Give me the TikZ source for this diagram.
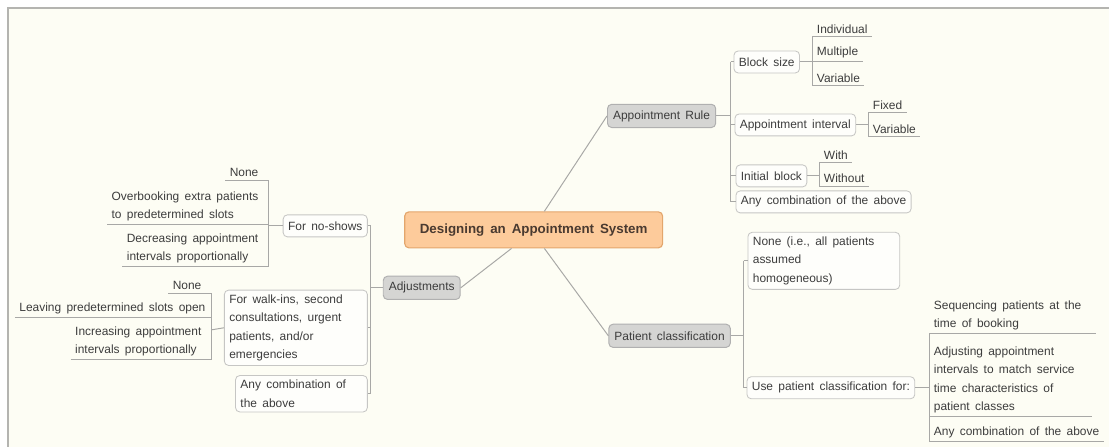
\documentclass[tikz,border=0pt]{standalone}
\usepackage{fontspec}
\setmainfont{Liberation Sans}[WordSpace=1.6]
\usepackage{tikz}

\definecolor{paper}{HTML}{FDFDF4}
\definecolor{frameline}{HTML}{B4B4B0}
\definecolor{branch}{HTML}{A8A8A6}
\definecolor{boxline}{HTML}{C6C6C4}
\definecolor{inktext}{HTML}{3C3C3C}
\definecolor{rootfill}{HTML}{FDCB9B}
\definecolor{rootline}{HTML}{E3A66C}
\definecolor{roottext}{HTML}{4A3A30}
\definecolor{topicfill}{HTML}{D5D5D3}
\definecolor{topicline}{HTML}{B0B0B0}

\tikzset{
  conn/.style={draw=branch, line width=0.7pt},
  rootbox/.style={draw=rootline, fill=rootfill, rounded corners=3pt, line width=0.8pt,
    minimum width=6.45cm, minimum height=0.9cm, text=roottext,
    font=\fontsize{9.5}{12}\selectfont\bfseries},
  topic/.style={draw=topicline, fill=topicfill, rounded corners=3pt, line width=0.7pt,
    minimum height=0.58cm, inner xsep=4pt, text=inktext,
    font=\fontsize{8.5}{13}\selectfont},
  subbox/.style={draw=boxline, fill=white!60!paper, rounded corners=3pt, line width=0.6pt,
    minimum height=0.55cm, inner xsep=3.5pt, align=flush left, text=inktext,
    font=\fontsize{8.5}{13}\selectfont},
  leaf/.style={inner xsep=3pt, inner ysep=2.5pt, align=flush left, text=inktext,
    font=\fontsize{8.5}{13}\selectfont},
}

\begin{document}
\begin{tikzpicture}[x=0.025cm, y=-0.025cm]
% page
\fill[white] (0,0) rectangle (1110,447);
\fill[paper] (8,8) rectangle (1110,447);
\draw[frameline, line width=1pt] (8,447) -- (8,8) -- (1110,8);
\useasboundingbox (0,0) rectangle (1110,447);

% centre and main topics
\node[rootbox] (root) at (534,230) {Designing an Appointment System};
\node[topic] (rule) at (662,116) {Appointment Rule};
\node[topic] (pclass) at (670,336) {Patient classification};
\node[topic] (adjust) at (422,288) {Adjustments};
\draw[conn] (root.60) -- (rule.west);
\draw[conn] (root.-60) -- (pclass.west);
\draw[conn] (root.-140) -- (adjust.east);

% appointment rule
\coordinate (rulebar) at (731,116);
\node[subbox, anchor=west] (bsize) at (734,62) {Block size};
\node[subbox, anchor=west] (aint) at (735,125) {Appointment interval};
\node[subbox, anchor=west] (iblock) at (736,176) {Initial block};
\node[subbox, anchor=west] (ruleany) at (736,202) {Any combination of the above};
\draw[conn] (rule.east) -- (rulebar);
\draw[conn] (rulebar |- bsize.west) -- (rulebar |- ruleany.west);
\foreach \n in {bsize,aint,iblock,ruleany}
  \draw[conn] (rulebar |- \n.west) -- (\n.west);

\coordinate (bsizebar) at (813,62);
\node[leaf, anchor=south west] (indiv) at (813,37) {Individual};
\node[leaf, anchor=south west] (multi) at (813,62) {Multiple};
\node[leaf, anchor=south west] (bvar) at (813,86) {Variable};
\draw[conn] (bsize.east) -- (bsizebar);
\draw[conn] (indiv.south west) -- (bvar.south west);

\coordinate (aintbar) at (869,125);
\node[leaf, anchor=south west] (fixed) at (869,113) {Fixed};
\node[leaf, anchor=south west] (ivar) at (869,137) {Variable};
\draw[conn] (aint.east) -- (aintbar);
\draw[conn] (fixed.south west) -- (ivar.south west);

\coordinate (iblockbar) at (820,176);
\node[leaf, anchor=south west] (with) at (820,163) {With};
\node[leaf, anchor=south west] (without) at (820,187) {Without};
\draw[conn] (iblock.east) -- (iblockbar);
\draw[conn] (with.south west) -- (without.south west);

\foreach \n in {indiv,multi,bvar,fixed,ivar,with,without}
  \draw[conn] (\n.south west) -- (\n.south east);

% patient classification
\coordinate (pclassbar) at (744,336);
\node[subbox, anchor=west, text width=3.55cm] (pnone) at (748,261) {None (i.e., all patients\\assumed\\homogeneous)};
\node[subbox, anchor=west] (puse) at (747,388) {Use patient classification for:};
\draw[conn] (pclass.east) -- (pclassbar);
\draw[conn] (pclassbar |- pnone.west) -- (pclassbar |- puse.west);
\foreach \n in {pnone,puse}
  \draw[conn] (pclassbar |- \n.west) -- (\n.west);

\coordinate (usebar) at (930,388);
\node[leaf, anchor=south west, text width=3.95cm] (seq) at (930,334) {Sequencing patients at the\\time of booking};
\node[leaf, anchor=south west, text width=3.85cm] (adjint) at (930,417) {Adjusting appointment\\intervals to match service\\time characteristics of\\patient classes};
\node[leaf, anchor=south west] (useany) at (930,442) {Any combination of the above};
\draw[conn] (puse.east) -- (usebar);
\draw[conn] (seq.south west) -- (useany.south west);
\foreach \n in {seq,adjint,useany}
  \draw[conn] (\n.south west) -- (\n.south east);

% adjustments
\coordinate (adjbar) at (371,288);
\node[subbox, anchor=east] (noshow) at (368,226) {For no-shows};
\node[subbox, anchor=east, text width=3.33cm] (walkin) at (368,328) {For walk-ins, second\\consultations, urgent\\patients, and/or\\emergencies};
\node[subbox, anchor=east, text width=3.05cm] (adjany) at (368,394) {Any combination of\\the above};
\draw[conn] (adjust.west) -- (adjbar);
\draw[conn] (adjbar |- noshow.east) -- (adjbar |- adjany.east);
\foreach \n in {noshow,walkin,adjany}
  \draw[conn] (adjbar |- \n.east) -- (\n.east);

\coordinate (noshowbar) at (269,226);
\node[leaf, anchor=south east] (nsnone) at (263,181) {None};
\node[leaf, anchor=south east] (overbook) at (263,225) {Overbooking extra patients\\to predetermined slots};
\node[leaf, anchor=south east] (decr) at (263,267) {Decreasing appointment\\intervals proportionally};
\draw[conn] (noshowbar) -- (noshow.west);
\draw[conn] (noshowbar |- nsnone.south) -- (noshowbar |- decr.south);
\foreach \n in {nsnone,overbook,decr}
  \draw[conn] (\n.south west) -- (noshowbar |- \n.south);

\coordinate (walkbar) at (212,330);
\node[leaf, anchor=south east] (wnone) at (206,294) {None};
\node[leaf, anchor=south east] (leave) at (210,318) {Leaving predetermined slots open};
\node[leaf, anchor=south east] (incr) at (206,360) {Increasing appointment\\intervals proportionally};
\draw[conn] (walkbar) -- (walkin.west);
\draw[conn] (walkbar |- wnone.south) -- (walkbar |- incr.south);
\foreach \n in {wnone,leave,incr}
  \draw[conn] (\n.south west) -- (walkbar |- \n.south);
\end{tikzpicture}
\end{document}
